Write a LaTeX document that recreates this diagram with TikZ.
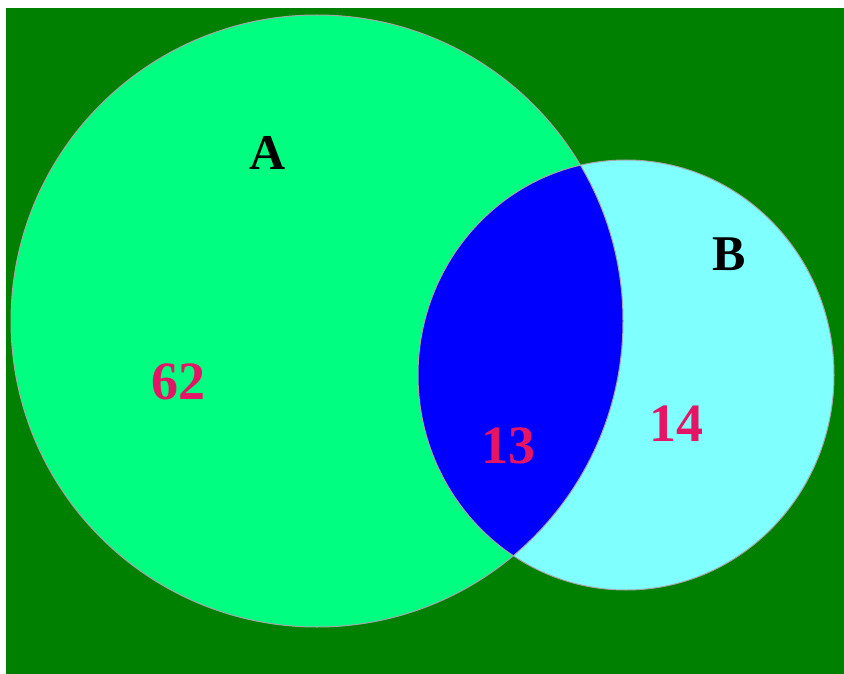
\documentclass[tikz,border=0pt]{standalone}
\usepackage{fontspec}
\setmainfont{Liberation Serif}
\usepackage{tikz}

\definecolor{bggreen}{RGB}{0,128,0}
\definecolor{setA}{RGB}{0,255,128}
\definecolor{setB}{RGB}{128,255,255}
\definecolor{both}{RGB}{0,0,255}
\definecolor{numred}{RGB}{230,20,100}

\tikzset{
  setlabel/.style={font=\fontsize{50}{56}\selectfont\bfseries, text=black, inner sep=0pt},
  numlabel/.style={font=\fontsize{54}{60}\selectfont\bfseries, text=numred, inner sep=0pt},
  rim/.style={draw=gray!70, line width=1pt}
}

\begin{document}
\begin{tikzpicture}[x=1pt, y=-1pt]
	\useasboundingbox (0,0) rectangle (844,674);
	\fill[white] (0,0) rectangle (844,674);
	\fill[bggreen] (6,8) rectangle (844,674);
	% the two sets
	\fill[setA] (317,321) circle (306);
	\fill[setB] (626,375) ellipse (208 and 215);
	\begin{scope}
		\clip (317,321) circle (306);
		\fill[both] (626,375) ellipse (208 and 215);
	\end{scope}
	\draw[rim] (317,321) circle (306);
	\draw[rim] (626,375) ellipse (208 and 215);
	% labels
	\node[setlabel] (lblA) at (268,153) {A};
	\node[setlabel] (lblB) at (729,254) {B};
	\node[numlabel] (onlyA) at (178,382) {62};
	\node[numlabel] (inboth) at (508,446) {13};
	\node[numlabel] (onlyB) at (676,424) {14};
\end{tikzpicture}
\end{document}
